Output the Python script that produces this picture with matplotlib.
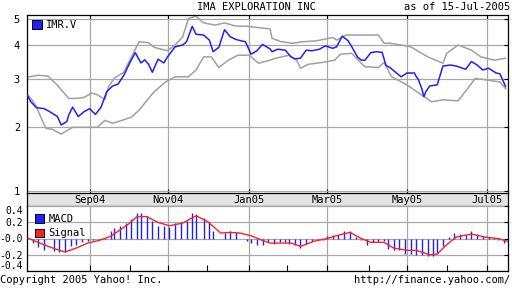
import matplotlib
matplotlib.use('Agg')
import matplotlib.pyplot as plt
from matplotlib.patches import Patch

# ---------------- data (x = trading-day index since 15-Jul-2004) ----------------
price_t = [0, 2, 5, 9, 12, 16, 18, 21, 22, 24, 27, 30, 33, 36, 39, 42, 45, 48, 51, 54,
           57, 60, 62, 64, 66, 69, 72, 74, 78, 82, 84, 87, 89, 93, 96, 98, 101, 104, 107, 110,
           115, 118, 121, 124, 128, 129, 132, 136, 139, 141, 144, 147, 150, 154, 157, 161, 163,
           166, 169, 171, 174, 176, 178, 181, 184, 187, 189, 191, 197, 200, 204, 205, 206, 208,
           209, 210, 212, 216, 219, 223, 226, 231, 234, 237, 240, 243, 247, 249, 252]
price = [2.63, 2.48, 2.36, 2.34, 2.28, 2.19, 2.04, 2.10, 2.22, 2.37, 2.19, 2.28, 2.34, 2.23,
         2.37, 2.70, 2.83, 2.88, 3.10, 3.43, 3.75, 3.44, 3.53, 3.40, 3.18, 3.55, 3.44, 3.62,
         3.94, 4.00, 4.11, 4.68, 4.38, 4.35, 4.17, 3.78, 3.92, 4.55, 4.29, 4.19, 4.11, 3.70,
         3.81, 4.02, 3.87, 3.78, 3.86, 3.83, 3.62, 3.56, 3.58, 3.83, 3.81, 3.86, 3.97, 3.89,
         3.94, 4.31, 4.15, 3.94, 3.62, 3.52, 3.52, 3.75, 3.78, 3.76, 3.37, 3.31, 3.06, 3.16,
         3.16, 3.06, 3.00, 2.75, 2.59, 2.70, 2.83, 2.86, 3.35, 3.38, 3.35, 3.26, 3.48, 3.38,
         3.24, 3.29, 3.16, 3.14, 2.82]

upper_t = [0, 6, 11, 16, 22, 25, 30, 34, 37, 41, 43, 46, 51, 55, 59, 64, 67, 74, 78, 82,
           85, 89, 93, 99, 104, 110, 115, 122, 128, 129, 134, 140, 145, 152, 161, 163, 168,
           175, 185, 188, 191, 197, 202, 211, 219, 221, 227, 234, 239, 246, 252]
upper = [3.05, 3.10, 3.08, 2.85, 2.55, 2.55, 2.57, 2.67, 2.63, 2.53, 2.82, 3.03, 3.18, 3.62,
         4.11, 4.08, 3.92, 3.81, 4.00, 4.29, 5.00, 5.10, 4.82, 4.73, 4.82, 4.69, 4.69, 4.63,
         4.58, 4.23, 4.11, 4.06, 4.11, 4.14, 4.26, 4.17, 4.35, 4.35, 4.35, 4.06, 4.06, 4.00,
         3.94, 3.62, 3.43, 3.73, 4.00, 3.83, 3.62, 3.52, 3.58]

lower_t = [0, 3, 5, 8, 10, 13, 18, 24, 30, 37, 41, 45, 50, 55, 59, 64, 67, 73, 78, 85, 89,
           93, 97, 101, 106, 111, 117, 122, 128, 131, 138, 142, 144, 148, 155, 162, 165, 171,
           176, 178, 185, 188, 192, 200, 209, 213, 219, 227, 232, 236, 242, 249, 252]
lower = [2.65, 2.50, 2.37, 2.12, 1.98, 1.97, 1.89, 2.00, 2.00, 2.00, 2.12, 2.07, 2.12, 2.18,
         2.31, 2.55, 2.70, 2.93, 3.06, 3.06, 3.24, 3.62, 3.62, 3.31, 3.52, 3.67, 3.67, 3.43,
         3.52, 3.58, 3.67, 3.52, 3.29, 3.40, 3.45, 3.52, 3.70, 3.73, 3.43, 3.33, 3.31, 3.45,
         3.06, 2.86, 2.59, 2.48, 2.52, 2.50, 2.77, 3.02, 2.98, 2.93, 2.77]

macd_t = [3, 6, 9, 14, 17, 20, 23, 26, 29, 32, 35, 38, 41, 44, 46, 49, 52, 55, 58, 60, 63,
          66, 69, 72, 75, 78, 81, 84, 87, 89, 93, 96, 98, 101, 104, 107, 110, 116, 118, 121,
          124, 127, 130, 133, 136, 138, 141, 144, 147, 150, 153, 156, 158, 161, 164, 167, 170,
          173, 176, 179, 182, 185, 188, 190, 193, 196, 199, 202, 205, 208, 211, 214, 216, 219,
          222, 225, 228, 231, 234, 237, 240, 243, 246, 248, 251]
macd = [-0.056, -0.109, -0.146, -0.158, -0.17, -0.17, -0.097, -0.076, -0.047, -0.027, -0.015,
        -0.015, 0.005, 0.096, 0.128, 0.157, 0.19, 0.243, 0.32, 0.312, 0.28, 0.21, 0.149, 0.157,
        0.137, 0.19, 0.20, 0.22, 0.31, 0.30, 0.25, 0.20, 0.088, -0.007, 0.067, 0.088, 0.08,
        -0.027, -0.06, -0.08, -0.084, -0.047, -0.064, -0.047, -0.047, -0.064, -0.076, -0.117,
        -0.064, -0.027, -0.015, -0.015, 0.034, 0.047, 0.047, 0.096, 0.088, 0.018, -0.015,
        -0.084, -0.047, -0.047, -0.035, -0.13, -0.146, -0.137, -0.186, -0.186, -0.2, -0.2,
        -0.22, -0.21, -0.186, -0.097, 0.018, 0.067, 0.06, 0.047, 0.088, 0.055, 0.034, 0.018,
        0.005, -0.015, -0.056]

signal_t = [1, 9, 15, 20, 26, 32, 38, 44, 53, 58, 63, 69, 75, 82, 89, 95, 102, 107, 112, 118,
            123, 128, 139, 144, 151, 158, 165, 170, 176, 181, 188, 193, 200, 205, 212, 216, 220,
            226, 234, 241, 248, 253]
signal = [0.0, -0.078, -0.129, -0.166, -0.117, -0.056, -0.023, 0.026, 0.17, 0.27, 0.27, 0.198,
          0.157, 0.19, 0.28, 0.21, 0.067, 0.075, 0.067, 0.034, -0.015, -0.056, -0.056, -0.097,
          -0.035, 0.0, 0.047, 0.075, 0.0, -0.047, -0.047, -0.117, -0.146, -0.146, -0.2, -0.19,
          -0.097, 0.018, 0.055, 0.018, 0.0, -0.035]

month_labels = ['Sep04', 'Nov04', 'Jan05', 'Mar05', 'May05', 'Jul05']
month_t = [33, 74, 117, 158, 200, 242]
minor_t = [54, 95, 137, 180, 221]
price_ticks = [1.17, 2, 3, 4, 5]
price_tick_labels = ['1', '2', '3', '4', '5']
macd_ticks = [0.4, 0.2, 0.0, -0.2, -0.4]
macd_tick_labels = ['0.4', '0.2', '-0.0', '-0.2', '-0.4']

title = 'IMA EXPLORATION INC'
asof = 'as of 15-Jul-2005'
ticker = 'IMR.V'

# ---------------- style ----------------
W, H = 512, 288
FS = 7
BLUE = '#2020ff'
RED = '#ff2020'
GRAY = '#a0a0a0'
GRID = '#a8a8a8'
plt.rcParams['font.family'] = ['DejaVu Sans Mono']

fig = plt.figure(figsize=(W / 100, H / 100), dpi=100)


def rect(x0, y0, x1, y1):
    return [x0 / W, 1 - y1 / H, (x1 - x0) / W, (y1 - y0) / H]


XL = (0, 253)
ax = fig.add_axes(rect(27, 15, 507.5, 193))
band = fig.add_axes(rect(27, 193, 507.5, 206))
mx = fig.add_axes(rect(27, 206, 507.5, 271))

# main price panel
ax.set_yscale('log')
ax.set_ylim(1.15, 5.15)
ax.set_xlim(*XL)
ax.plot(upper_t, upper, color=GRAY, lw=1.1, zorder=2)
ax.plot(lower_t, lower, color=GRAY, lw=1.1, zorder=2)
ax.plot(price_t, price, color=BLUE, lw=1.1, zorder=3)
ax.set_yticks(price_ticks)
ax.set_yticklabels(price_tick_labels, fontsize=FS + 0.5)
ax.yaxis.set_minor_locator(matplotlib.ticker.NullLocator())
ax.set_xticks(month_t)
ax.set_xticklabels([])
ax.grid(True, color=GRID, lw=0.9, zorder=1)
ax.tick_params(axis='y', which='both', left=False, right=True, direction='in', length=3,
               pad=5, width=0.8)
ax.tick_params(axis='x', which='both', top=True, bottom=True, direction='in', length=3,
               width=0.8)
for s in ax.spines.values():
    s.set_linewidth(0.9)
ax.spines['bottom'].set_visible(False)
ax.legend(handles=[Patch(facecolor=BLUE, edgecolor='black', linewidth=0.7, label=ticker)],
          loc='upper left', frameon=False, handlelength=0.9, handleheight=0.9,
          handletextpad=0.4, borderaxespad=0.3, borderpad=0.2, prop={'size': FS + 0.5})

# date band
band.set_xlim(*XL)
band.set_ylim(0, 1)
band.set_facecolor('#e4e4e4')
band.set_xticks([])
band.set_yticks([])
for s in band.spines.values():
    s.set_linewidth(0.9)
for t, lab in zip(month_t, month_labels):
    band.text(t, 0.45, lab, ha='center', va='center', fontsize=FS + 0.5)

# MACD panel
mx.set_xlim(*XL)
mx.set_ylim(-0.4, 0.4)
mx.vlines(macd_t, 0, macd, color=BLUE, lw=1.0, zorder=3)
mx.plot(signal_t, signal, color=RED, lw=1.0, zorder=4)
mx.set_yticks(macd_ticks)
mx.set_yticklabels(macd_tick_labels, fontsize=FS)
labs = mx.get_yticklabels()
labs[0].set_verticalalignment('top')
labs[-1].set_verticalalignment('bottom')
mx.set_xticks(month_t)
mx.set_xticks(minor_t, minor=True)
mx.set_xticklabels([])
mx.grid(True, which='major', color=GRID, lw=0.9, zorder=1)
mx.tick_params(axis='y', left=False, right=True, direction='in', length=3, pad=2.8, width=0.8)
mx.tick_params(axis='x', which='both', bottom=True, top=False, direction='in', length=4,
               width=0.8)
for s in mx.spines.values():
    s.set_linewidth(0.9)
mx.spines['top'].set_visible(False)
mx.legend(handles=[Patch(facecolor=BLUE, edgecolor='black', linewidth=0.7, label='MACD'),
                   Patch(facecolor=RED, edgecolor='black', linewidth=0.7, label='Signal')],
          loc='upper left', frameon=False, handlelength=0.9, handleheight=0.9,
          handletextpad=0.4, borderaxespad=0.3, borderpad=0.45, labelspacing=0.45,
          prop={'size': FS + 0.5})

# texts
fig.text(256 / W, 1 - 7 / H, title, ha='center', va='center', fontsize=FS + 0.5)
fig.text(510 / W, 1 - 7 / H, asof, ha='right', va='center', fontsize=FS + 0.5)
fig.text(0 / W, 1 - 280 / H, 'Copyright 2005 Yahoo! Inc.', ha='left', va='center',
         fontsize=FS + 0.5)
fig.text(510 / W, 1 - 280 / H, 'http://finance.yahoo.com/', ha='right', va='center',
         fontsize=FS + 0.5)

fig.savefig('out.png', dpi=100)
